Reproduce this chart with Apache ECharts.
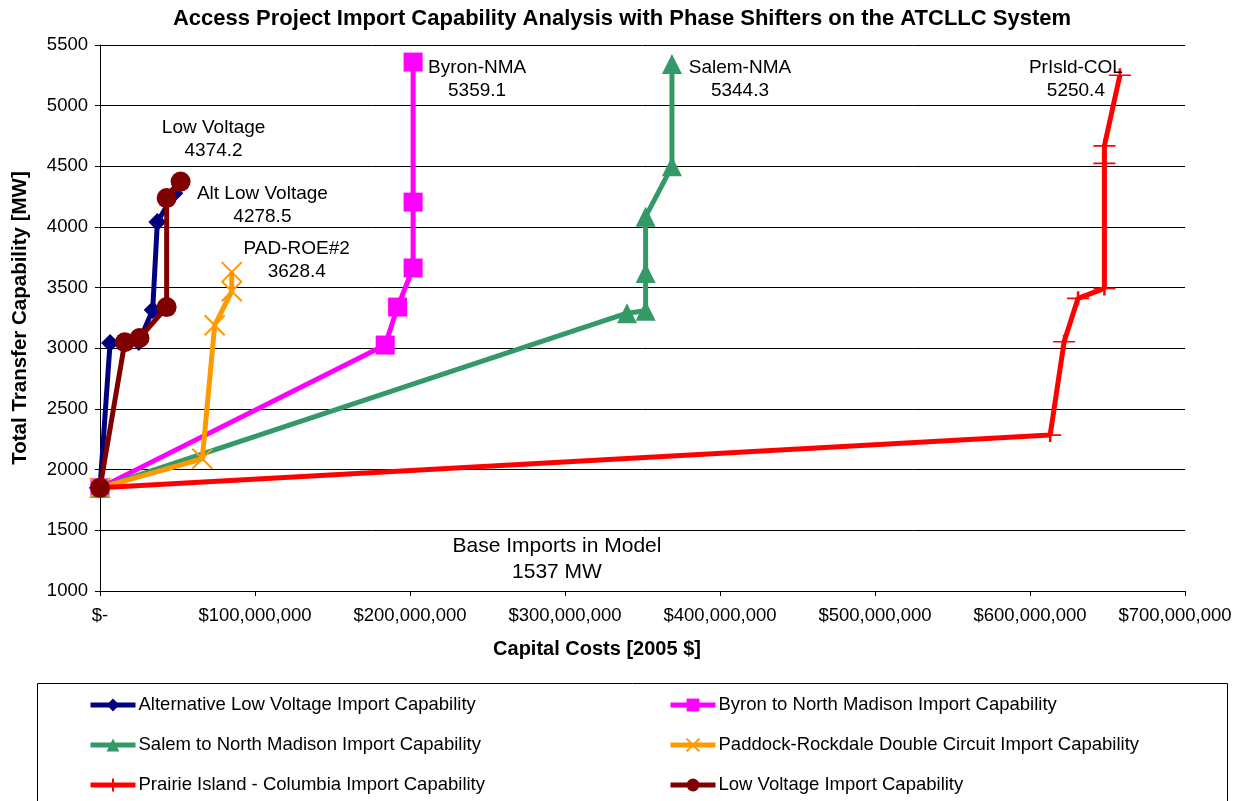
<!DOCTYPE html>
<html><head><meta charset="utf-8">
<script src="https://cdn.jsdelivr.net/npm/echarts@6/dist/echarts.min.js"></script>
<style>html,body{margin:0;padding:0;background:#fff}#c{width:1235px;height:801px}</style>
</head><body><div id="c"></div>
<script>
// ---- data (costs in dollars, capability in MW) ----
const seriesNames = [
  'Alternative Low Voltage Import Capability',
  'Byron to North Madison Import Capability',
  'Salem to North Madison Import Capability',
  'Paddock-Rockdale Double Circuit Import Capability',
  'Prairie Island - Columbia Import Capability',
  'Low Voltage Import Capability'
];
const altLowVoltageX = [0, 6.5e6, 25e6, 34e6, 37e6, 48e6];
const altLowVoltageY = [1850, 3044, 3052, 3316, 4041, 4278.5];
const byronX = [0, 184e6, 192e6, 202e6, 202e6, 202e6];
const byronY = [1850, 3027, 3340, 3662, 4205, 5359.1];
const salemX = [0, 340e6, 352e6, 352e6, 352e6, 369e6, 369e6];
const salemY = [1850, 3290, 3310, 3620, 4085, 4500, 5344.3];
const paddockX = [0, 66e6, 74e6, 85e6, 85e6];
const paddockY = [1850, 2090, 3190, 3470, 3628.4];
const prairieX = [0, 613e6, 622e6, 631e6, 648e6, 648e6, 648e6, 658e6];
const prairieY = [1850, 2285, 3054, 3412, 3494, 4524, 4669, 5250.4];
const lowVoltageX = [0, 16e6, 25.5e6, 43e6, 43e6, 52e6];
const lowVoltageY = [1850, 3050, 3085, 3340, 4238, 4374.2];
const endLabels = ['Alt Low Voltage', 'Byron-NMA', 'Salem-NMA', 'PAD-ROE#2', 'PrIsld-COL', 'Low Voltage'];
const baseNote = ['Base Imports in Model', '1537 MW'];
const yTicks = {min: 1000, max: 5500, interval: 500};
const xTicks = {min: 0, max: 700e6, interval: 100e6};

// ---- styles ----
const FONT = '"Liberation Sans", Arial, sans-serif';
const colors = ['#000080', '#FF00FF', '#339966', '#FF9900', '#FF0000', '#800000'];
const symbols = ['diamond', 'rect', 'triangle',
  'path://M0,0L10,10M10,0L0,10',
  'path://M0,10L20,10M10,7L10,13',
  'circle'];
const symbolSizes = [18, 19, [20, 20], [20, 20], [22, 14], 20];
const labelOffsets = [[88, 12], [64, 17], [68, 15], [65, -12], [-44, 4], [33, -42]];
const xs = [altLowVoltageX, byronX, salemX, paddockX, prairieX, lowVoltageX];
const ys = [altLowVoltageY, byronY, salemY, paddockY, prairieY, lowVoltageY];

function fmtMoney(v) {
  if (v === 0) return '$-';
  const s = '$' + Math.round(v).toString().replace(/\B(?=(\d{3})+(?!\d))/g, ',');
  return v === xTicks.max ? '{last|' + s + '}' : s;
}

const series = seriesNames.map((name, i) => {
  const data = xs[i].map((x, j) => {
    const item = {value: [x, ys[i][j]]};
    if (j === xs[i].length - 1) {
      item.label = {
        show: true,
        position: 'inside',
        offset: labelOffsets[i],
        formatter: endLabels[i] + '\n' + ys[i][j].toFixed(1),
        color: '#000', fontSize: 19, fontFamily: FONT, lineHeight: 23,
        align: 'center', verticalAlign: 'middle'
      };
    }
    return item;
  });
  const isPath = i === 3 || i === 4;
  return {
    name, type: 'line', data,
    symbol: symbols[i], symbolSize: symbolSizes[i], showAllSymbol: true,
    lineStyle: {color: colors[i], width: 5},
    itemStyle: isPath ? {color: colors[i], borderColor: colors[i], borderWidth: 2}
                      : {color: colors[i]},
    emphasis: {disabled: true},
    animation: false,
    z: 2 + i
  };
});

const legendPos = [[88, 705], [668, 705], [88, 745], [668, 745], [88, 785], [668, 785]];
const legends = seriesNames.map((n, i) => ({
  data: [n], left: legendPos[i][0], top: legendPos[i][1] - 10,
  padding: 0,
  itemWidth: 45, itemHeight: 16, itemGap: 0,
  lineStyle: {width: 5},
  textStyle: {fontSize: 18.5, fontFamily: FONT, color: '#000', lineHeight: 20, padding: [0, 0, 0, -2]},
  selectedMode: false
}));

const chart = echarts.init(document.getElementById('c'), null, {renderer: 'canvas'});
chart.setOption({
  backgroundColor: '#fff',
  animation: false,
  title: [
    {text: 'Access Project Import Capability Analysis with Phase Shifters on the ATCLLC System',
     left: 622, top: 8, textAlign: 'center', padding: 0,
     textStyle: {fontSize: 22, fontWeight: 'bold', fontFamily: FONT, color: '#000'}},
    {text: 'Capital Costs [2005 $]', left: 597, top: 639, textAlign: 'center', padding: 0,
     textStyle: {fontSize: 20, fontWeight: 'bold', fontFamily: FONT, color: '#000'}},
    {text: baseNote.join('\n'), left: 557, top: 533, textAlign: 'center', padding: 0,
     textStyle: {fontSize: 21, fontWeight: 'normal', fontFamily: FONT, color: '#000', lineHeight: 26}}
  ],
  legend: legends,
  grid: {left: 100, right: 50, top: 45, bottom: 210, containLabel: false, outerBoundsMode: 'none'},
  xAxis: {
    type: 'value', min: xTicks.min, max: xTicks.max, interval: xTicks.interval,
    axisLine: {show: true, onZero: false, lineStyle: {color: '#000', width: 1}},
    axisTick: {show: true, length: 5, lineStyle: {color: '#000'}},
    axisLabel: {formatter: fmtMoney, fontSize: 18.5, fontFamily: FONT, color: '#000', margin: 15,
                hideOverlap: false, showMaxLabel: true, showMinLabel: true,
                rich: {last: {fontSize: 18.5, fontFamily: FONT, color: '#000', padding: [0, 20, 0, 0]}}},
    splitLine: {show: false}
  },
  yAxis: {
    type: 'value', min: yTicks.min, max: yTicks.max, interval: yTicks.interval,
    name: 'Total Transfer Capability [MW]', nameLocation: 'middle', nameGap: 69,
    nameTextStyle: {fontSize: 20.5, fontWeight: 'bold', fontFamily: FONT, color: '#000'},
    axisLine: {show: true, lineStyle: {color: '#000', width: 1}},
    axisTick: {show: true, length: 5, lineStyle: {color: '#000'}},
    axisLabel: {formatter: v => String(v), fontSize: 18.5, fontFamily: FONT, color: '#000', margin: 12},
    splitLine: {show: true, lineStyle: {color: '#000', width: 1}}
  },
  graphic: [
    {type: 'rect', left: 35, top: 681, shape: {width: 1190, height: 130},
     style: {fill: 'none', stroke: '#000', lineWidth: 1}, z: -1, silent: true}
  ],
  series
});
</script>
</body></html>
